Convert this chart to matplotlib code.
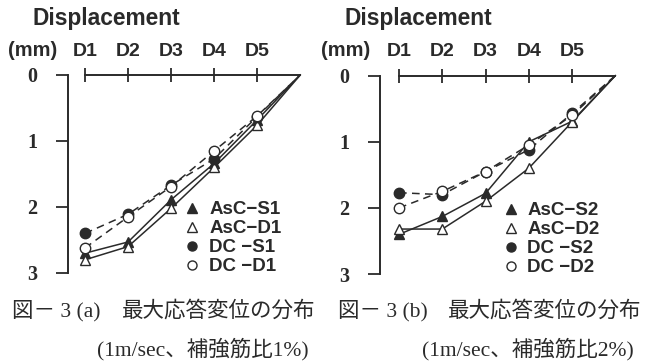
import matplotlib
matplotlib.use("Agg")
import matplotlib.pyplot as plt
from matplotlib.lines import Line2D

# ---- data ----
positions = [1, 2, 3, 4, 5, 6]
tick_labels = ["D1", "D2", "D3", "D4", "D5"]
y_ticks = [0, 1, 2, 3]

# panel (a)
asc_s1 = [2.70, 2.53, 1.89, 1.34, 0.68, 0.0]
asc_d1 = [2.80, 2.60, 2.02, 1.40, 0.76, 0.0]
dc_s1 = [2.40, 2.11, 1.67, 1.27, 0.63, 0.0]
dc_d1 = [2.62, 2.15, 1.69, 1.15, 0.62, 0.0]
labels_a = ["AsC\u2212S1", "AsC\u2212D1", "DC \u2212S1", "DC \u2212D1"]

# panel (b)
asc_s2 = [2.40, 2.13, 1.78, 1.00, 0.69, 0.0]
asc_d2 = [2.32, 2.32, 1.90, 1.40, 0.70, 0.0]
dc_s2 = [1.77, 1.80, 1.45, 1.12, 0.57, 0.0]
dc_d2 = [2.00, 1.75, 1.45, 1.05, 0.60, 0.0]
labels_b = ["AsC\u2212S2", "AsC\u2212D2", "DC \u2212S2", "DC \u2212D2"]

fig_labels = ["図－ 3 (a)", "図－ 3 (b)"]
titles = ["最大応答変位の分布", "最大応答変位の分布"]
conditions = ["(1m/sec、補強筋比1%)", "(1m/sec、補強筋比2%)"]

INK = "#2a2a2a"
plt.rcParams["font.family"] = ["Liberation Sans", "DejaVu Sans"]

fig = plt.figure(figsize=(6.65, 3.64), dpi=100)
fig.patch.set_facecolor("white")

H = 364.0
W = 665.0
ax_a = fig.add_axes([68 / W, 91 / H, 236.5 / W, 198 / H])
ax_b = fig.add_axes([380 / W, 90 / H, 239.6 / W, 198.3 / H])

def draw_panel(ax, xl, series, labels, legend_anchor):
    styles = [
        dict(marker="^", mfc=INK, ls="-"),
        dict(marker="^", mfc="white", ls="-"),
        dict(marker="o", mfc=INK, ls=(0, (5, 3.5))),
        dict(marker="o", mfc="white", ls=(0, (5, 3.5))),
    ]
    handles = []
    for ys, st, lab in zip(series, styles, labels):
        ax.plot(positions[:-1], ys[:-1], marker=st["marker"], mfc=st["mfc"],
                mec=INK, mew=1.0, ms=7.5 if st["marker"] == "o" else 7,
                ls="none", zorder=4, clip_on=False)
        ax.plot(positions, ys, color=INK, lw=1.1, ls=st["ls"], zorder=3,
                clip_on=False)
        handles.append(Line2D([], [], marker=st["marker"], mfc=st["mfc"], mec=INK,
                              mew=1.0, ms=6.5, ls="none"))
    ax.set_xlim(xl, 6.1)
    ax.set_ylim(3, 0)
    for s in ["right", "bottom"]:
        ax.spines[s].set_visible(False)
    ax.spines["left"].set_color(INK)
    ax.spines["left"].set_linewidth(1.4)
    ax.spines["top"].set_color(INK)
    ax.spines["top"].set_linewidth(1.4)
    ax.spines["top"].set_bounds(1, 6)
    ax.xaxis.set_ticks_position("top")
    ax.set_xticks(positions[:-1])
    ax.set_xticklabels(tick_labels)
    ax.tick_params(axis="x", direction="inout", length=10, width=1.3, color=INK,
                   pad=6, labelsize=14, labelcolor=INK)
    for t in ax.get_xticklabels():
        t.set_fontweight("bold")
    ax.set_yticks(y_ticks)
    ax.set_yticklabels([str(v) for v in y_ticks])
    ax.tick_params(axis="y", direction="out", length=9, width=1.3, color=INK,
                   pad=13, labelsize=14.5, labelcolor=INK)
    for t in ax.get_yticklabels():
        t.set_fontweight("bold")
        t.set_fontfamily(["Liberation Serif", "DejaVu Serif"])
    ax.legend(handles, labels, loc="upper left", bbox_to_anchor=legend_anchor,
              frameon=False, handlelength=0.6, handletextpad=0.6,
              labelspacing=0.1, borderaxespad=0,
              prop=dict(family=["Liberation Sans", "DejaVu Sans"], weight="bold",
                        size=13.5),
              labelcolor=INK)

draw_panel(ax_a, 0.605, [asc_s1, asc_d1, dc_s1, dc_d1], labels_a, (0.47, 0.40))
draw_panel(ax_b, 0.56, [asc_s2, asc_d2, dc_s2, dc_d2], labels_b, (0.49, 0.40))

# headers
for x_disp, x_mm in [(33, 8), (345, 321)]:
    fig.text(x_disp / W, 1 - 19 / H, "Displacement", fontsize=16.4,
             fontweight="bold", color=INK, va="center", ha="left")
    fig.text(x_mm / W, 1 - 50 / H, "(mm)", fontsize=14.5, fontweight="bold",
             color=INK, va="center", ha="left")

cap_font = ["Liberation Serif", "Noto Sans CJK JP", "DejaVu Sans"]
cap_size = 15.5
for lab, title, cond, x_lab, x_title, x_cond in zip(
        fig_labels, titles, conditions, [12, 338], [122, 448], [97, 422]):
    fig.text(x_lab / W, 1 - 311 / H, lab, fontsize=cap_size, family=cap_font,
             color=INK, va="center", ha="left")
    fig.text(x_title / W, 1 - 311 / H, title, fontsize=cap_size, family=cap_font,
             color=INK, va="center", ha="left")
    fig.text(x_cond / W, 1 - 349 / H, cond, fontsize=cap_size, family=cap_font,
             color=INK, va="center", ha="left")

fig.savefig("out.png", dpi=100, facecolor="white")
